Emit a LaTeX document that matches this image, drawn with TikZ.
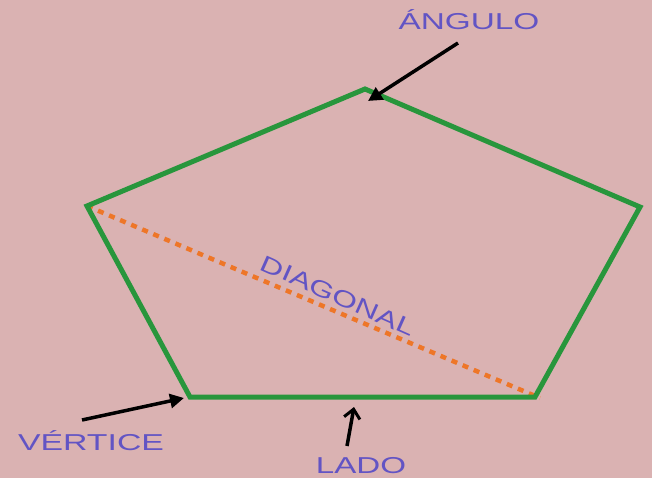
\documentclass[tikz,border=0pt]{standalone}
\usepackage{fontspec}
\usepackage{graphicx}
\setmainfont{Liberation Sans}
\usetikzlibrary{arrows.meta}
\definecolor{bgpink}{RGB}{218,178,178}
\definecolor{lblue}{RGB}{98,84,196}
\definecolor{pgreen}{RGB}{40,150,60}
\definecolor{dorange}{RGB}{238,118,40}
\tikzset{
  lbl/.style={text=lblue, font=\fontsize{23}{23}\selectfont, inner sep=0pt},
  side/.style={draw=pgreen, line width=5pt, line join=miter},
  diag/.style={draw=dorange, line width=4.5pt, dash pattern=on 6pt off 6pt},
  pointer/.style={draw=black, line width=3.5pt, -{Triangle[length=14pt,width=14pt]}},
  openpointer/.style={draw=black, line width=3.5pt, -{Straight Barb[length=9pt,width=16pt,line width=3pt]}}
}
\begin{document}
\begin{tikzpicture}[x=1pt,y=-1pt]
\fill[bgpink] (0,0) rectangle (652,478);
\useasboundingbox (0,0) rectangle (652,478);
\coordinate (top) at (365,89);
\coordinate (right) at (640,207);
\coordinate (br) at (535,397);
\coordinate (bl) at (190,397);
\coordinate (left) at (87,206);
\coordinate (dend) at (540,398);
\draw[diag] (left) -- (dend);
\draw[side] (top) -- (right) -- (br) -- (bl) -- (left) -- cycle;
\node[lbl] (angulo) at (469,20) {\scalebox{1.45}[1]{ÁNGULO}};
\node[lbl] (vertice) at (91,441) {\scalebox{1.47}[1]{VÉRTICE}};
\node[lbl] (lado) at (361,466) {\scalebox{1.44}[1]{LADO}};
\node[lbl, rotate=-24] (diagonal) at (338,296) {\scalebox{1.4}[1]{DIAGONAL}};
\coordinate (a1) at (458,43);
\coordinate (a2) at (368,101);
\coordinate (v1) at (82,420);
\coordinate (v2) at (184,398);
\coordinate (l1) at (347,446);
\coordinate (l2) at (354,407);
\draw[pointer] (a1) -- (a2);
\draw[pointer] (v1) -- (v2);
\draw[openpointer] (l1) -- (l2);
\end{tikzpicture}
\end{document}
